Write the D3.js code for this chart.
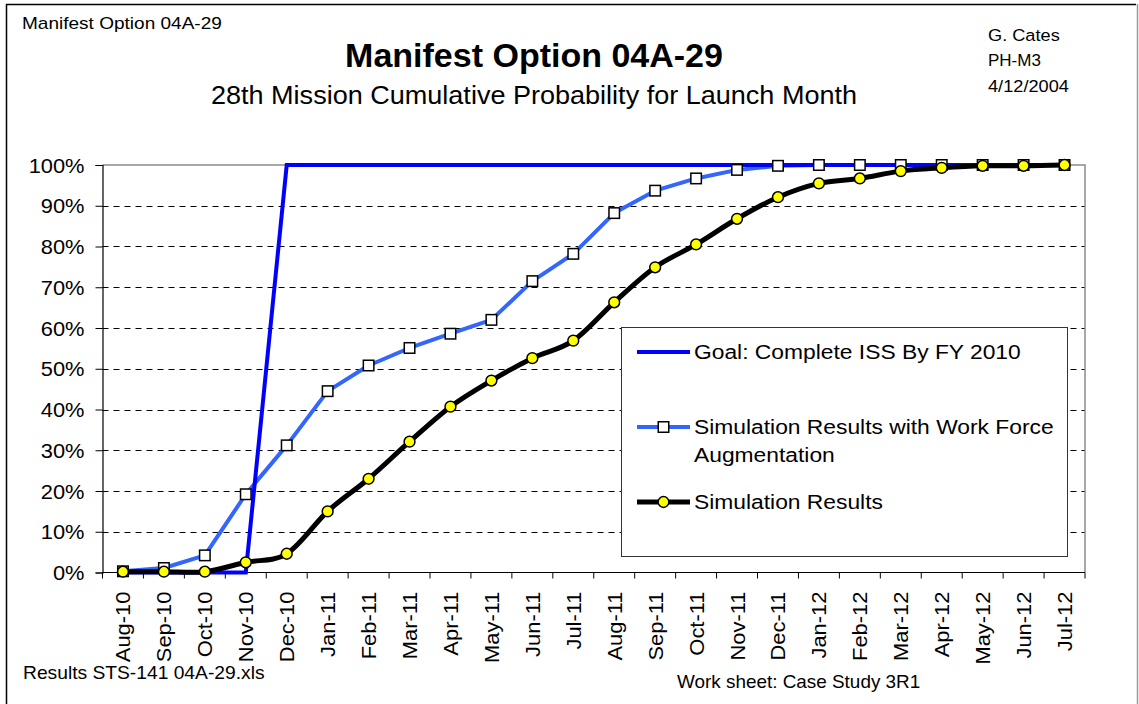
<!DOCTYPE html>
<html>
<head>
<meta charset="utf-8">
<script src="https://cdn.jsdelivr.net/npm/d3@7"></script>
<style>
  html, body { margin: 0; padding: 0; background: #fff; }
  svg { display: block; }
  text { font-family: "Liberation Sans", Arial, sans-serif; fill: #000; }
</style>
</head>
<body>
<svg id="chart" width="1139" height="704"></svg>
<script>
// Launch months on the category axis
const months = ["Aug-10","Sep-10","Oct-10","Nov-10","Dec-10","Jan-11","Feb-11","Mar-11",
  "Apr-11","May-11","Jun-11","Jul-11","Aug-11","Sep-11","Oct-11","Nov-11","Dec-11",
  "Jan-12","Feb-12","Mar-12","Apr-12","May-12","Jun-12","Jul-12"];

// Cumulative probability (%) per launch month
const goal = [0,0,0,0,100,100,100,100,100,100,100,100,100,100,100,100,100,100,100,100,100,100,100,100];
const augmented = [0.3,1.1,4.2,19.2,31.2,44.5,50.8,55.1,58.6,62.0,71.5,78.2,88.2,93.7,96.7,98.8,99.8,100,100,100,100,100,100,100];
const simulation = [0.2,0.2,0.2,2.5,4.6,15.0,23.0,32.1,40.7,47.1,52.6,56.9,66.3,74.9,80.5,86.8,92.1,95.5,96.7,98.5,99.3,99.8,99.8,100];

const yTicks = [0,10,20,30,40,50,60,70,80,90,100];
const seriesNames = ["Goal: Complete ISS By FY 2010",
  "Simulation Results with Work Force|Augmentation",
  "Simulation Results"];

const svg = d3.select("#chart");

// Text helper: Excel-style glyphs are drawn slightly wide, so allow a horizontal stretch
function label(parent, x, y, str, o = {}) {
  const sx = o.sx || 1;
  const rot = o.rotate ? ` rotate(${o.rotate})` : "";
  return parent.append("text")
    .attr("transform", `translate(${x},${y})${rot} scale(${sx},1)`)
    .attr("text-anchor", o.anchor || "start")
    .attr("dy", o.dy || null)
    .style("font-size", (o.size || 16) + "px")
    .style("font-weight", o.bold ? "bold" : null)
    .text(str);
}

// Outer frame
svg.append("path").attr("d", "M6.5,704V4.5H1136").attr("fill", "none")
  .attr("stroke", "#000").attr("stroke-width", 1.5);
svg.append("line").attr("x1", 1137.5).attr("x2", 1137.5).attr("y1", 4).attr("y2", 704)
  .attr("stroke", "#999").attr("stroke-width", 1.5);

// Header and footer texts
label(svg, 22, 29, "Manifest Option 04A-29", {size: 17, sx: 1.12});
label(svg, 534, 67, "Manifest Option 04A-29", {size: 34, bold: true, anchor: "middle"});
label(svg, 534, 104, "28th Mission Cumulative Probability for Launch Month", {size: 26, anchor: "middle", sx: 1.04});
label(svg, 988, 41, "G. Cates", {size: 17, sx: 1.07});
label(svg, 988, 66, "PH-M3", {size: 17, sx: 1.0});
label(svg, 988, 92, "4/12/2004", {size: 17, sx: 1.07});
label(svg, 23, 679, "Results STS-141 04A-29.xls", {size: 17.5, sx: 1.1});
label(svg, 677, 688, "Work sheet: Case Study 3R1", {size: 17.5, sx: 1.08});

// Plot area bounds
const pLeft = 102.5, pRight = 1085, pTop = 165, pBottom = 572.5;
const x = d3.scaleBand().domain(months).range([pLeft, pRight]).padding(0);
const cx = d => x(d) + x.bandwidth() / 2;
const y = d3.scaleLinear().domain([0, 100]).range([pBottom, pTop]);

const plot = svg.append("g");

// Dashed horizontal gridlines
plot.selectAll("line.grid").data(yTicks.filter(v => v > 0 && v < 100)).join("line")
  .attr("class", "grid")
  .attr("x1", pLeft).attr("x2", pRight)
  .attr("y1", d => Math.round(y(d)) + 0.5).attr("y2", d => Math.round(y(d)) + 0.5)
  .attr("stroke", "#000").attr("stroke-width", 1).attr("stroke-dasharray", "6,5");

// Plot-area border (top and right)
plot.append("path").attr("d", `M${pLeft},${pTop}H${pRight}V${pBottom}`)
  .attr("fill", "none").attr("stroke", "#8c8c8c").attr("stroke-width", 1.5);

// Y axis
const yAxis = d3.axisLeft(y).tickValues(yTicks).tickFormat(d => d + "%").tickSize(7).tickPadding(0);
const yg = plot.append("g").attr("transform", `translate(${pLeft},0)`).call(yAxis);
yg.select(".domain").attr("stroke", "#000").attr("stroke-width", 1.2);
yg.selectAll(".tick line").attr("stroke", "#000");
yg.selectAll(".tick text")
  .attr("x", null).attr("dy", null)
  .attr("transform", "translate(-18,7) scale(1.12,1)")
  .style("font-size", "19.5px").attr("fill", "#000")
  .style("font-family", "'Liberation Sans', Arial, sans-serif");

// X axis: labels at band centres, ticks on band boundaries
const xAxis = d3.axisBottom(x).tickSize(0).tickPadding(0);
const xg = plot.append("g").attr("transform", `translate(0,${pBottom})`).call(xAxis);
xg.select(".domain").remove();
xg.append("line").attr("x1", pLeft).attr("x2", pRight).attr("y1", 0).attr("y2", 0)
  .attr("stroke", "#000").attr("stroke-width", 1.2);
xg.selectAll("line.bound").data(months.map(m => x(m)).concat([pRight])).join("line")
  .attr("class", "bound")
  .attr("x1", d => d).attr("x2", d => d).attr("y1", 0).attr("y2", 6)
  .attr("stroke", "#000");
xg.selectAll(".tick text")
  .attr("y", null).attr("dy", null)
  .attr("transform", "translate(7.5,19) rotate(-90) scale(1.07,1)")
  .attr("text-anchor", "end")
  .style("font-size", "20.5px").attr("fill", "#000")
  .style("font-family", "'Liberation Sans', Arial, sans-serif");

// Series lines
const straight = d3.line().x((d, i) => cx(months[i])).y(d => y(d));
const smooth = d3.line().x((d, i) => cx(months[i])).y(d => y(d)).curve(d3.curveCardinal.tension(0));

plot.append("path").datum(augmented).attr("d", straight)
  .attr("fill", "none").attr("stroke", "#3366ff").attr("stroke-width", 4).attr("stroke-linejoin", "round");
plot.append("path").datum(goal).attr("d", straight)
  .attr("fill", "none").attr("stroke", "#0000ff").attr("stroke-width", 4).attr("stroke-linejoin", "miter");
plot.append("path").datum(simulation).attr("d", smooth)
  .attr("fill", "none").attr("stroke", "#000").attr("stroke-width", 5).attr("stroke-linejoin", "round");

// Markers
const sq = 10.5;
plot.selectAll("rect.sq").data(augmented).join("rect")
  .attr("class", "sq")
  .attr("x", (d, i) => cx(months[i]) - sq / 2).attr("y", d => y(d) - sq / 2)
  .attr("width", sq).attr("height", sq)
  .attr("fill", "#fff").attr("stroke", "#000").attr("stroke-width", 1.5);
plot.selectAll("circle.dot").data(simulation).join("circle")
  .attr("class", "dot")
  .attr("cx", (d, i) => cx(months[i])).attr("cy", d => y(d)).attr("r", 5.4)
  .attr("fill", "#ffff00").attr("stroke", "#000").attr("stroke-width", 1.5);

// Legend
const lg = svg.append("g");
lg.append("rect").attr("x", 621.5).attr("y", 327.5).attr("width", 446).attr("height", 229)
  .attr("fill", "#fff").attr("stroke", "#333").attr("stroke-width", 1);
const legendRows = [
  {y: 352, color: "#0000ff", w: 4, marker: null},
  {y: 427, color: "#3366ff", w: 4, marker: "square"},
  {y: 502, color: "#000", w: 5, marker: "circle"}
];
legendRows.forEach((r, i) => {
  lg.append("line").attr("x1", 637).attr("x2", 690).attr("y1", r.y).attr("y2", r.y)
    .attr("stroke", r.color).attr("stroke-width", r.w);
  if (r.marker === "square") {
    lg.append("rect").attr("x", 663.5 - sq / 2).attr("y", r.y - sq / 2).attr("width", sq).attr("height", sq)
      .attr("fill", "#fff").attr("stroke", "#000").attr("stroke-width", 1.5);
  } else if (r.marker === "circle") {
    lg.append("circle").attr("cx", 663.5).attr("cy", r.y).attr("r", 5.4)
      .attr("fill", "#ffff00").attr("stroke", "#000").attr("stroke-width", 1.5);
  }
  seriesNames[i].split("|").forEach((line, k) => {
    label(lg, 694, r.y + 7 + k * 28, line, {size: 19.5, sx: 1.17});
  });
});
</script>
</body>
</html>
